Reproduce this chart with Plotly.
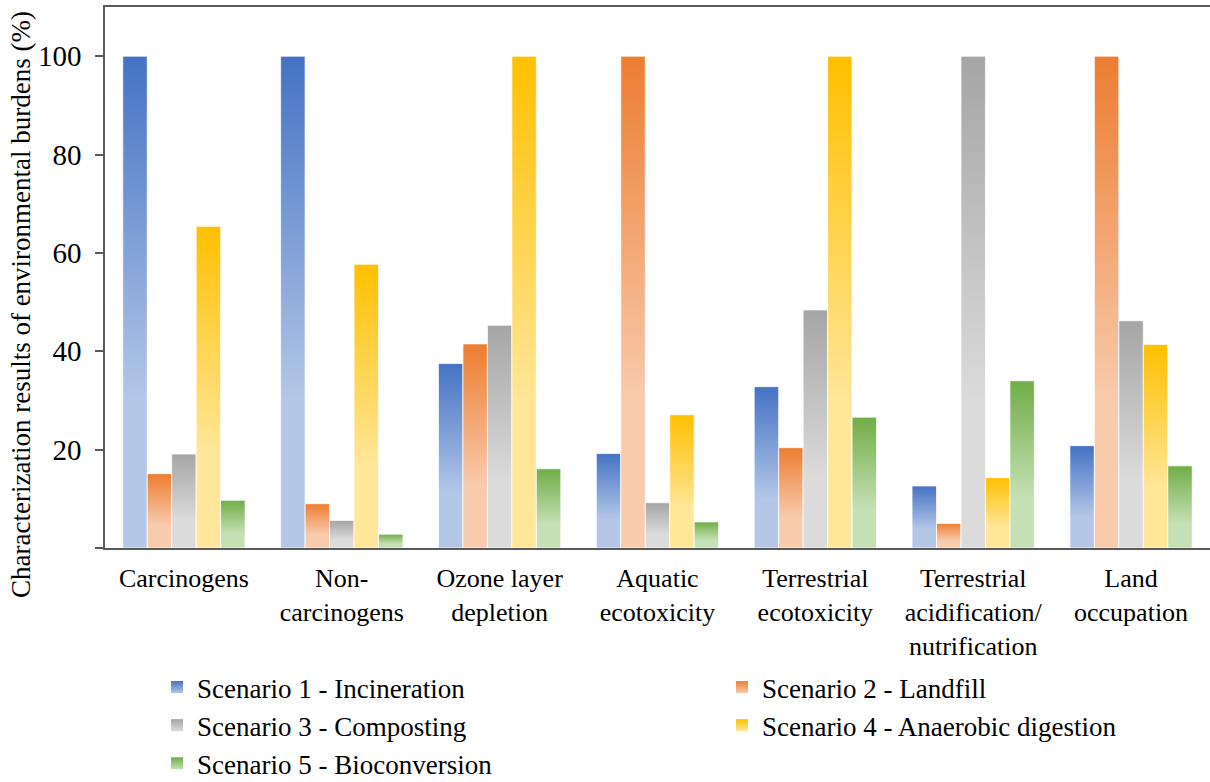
import plotly.graph_objects as go

# Impact categories (x axis) and scenario results (% of the worst scenario)
categories = [
    "Carcinogens",
    "Non-<br>carcinogens",
    "Ozone layer<br>depletion",
    "Aquatic<br>ecotoxicity",
    "Terrestrial<br>ecotoxicity",
    "Terrestrial<br>acidification/<br>nutrification",
    "Land<br>occupation",
]
scenario_names = [
    "Scenario 1 - Incineration",
    "Scenario 2 - Landfill",
    "Scenario 3 - Composting",
    "Scenario 4 - Anaerobic digestion",
    "Scenario 5 - Bioconversion",
]
incineration = [100, 100, 37.5, 19.2, 32.8, 12.6, 20.8]
landfill = [15.1, 9.0, 41.5, 100, 20.4, 5.0, 100]
composting = [19.1, 5.6, 45.3, 9.2, 48.4, 100, 46.2]
anaerobic = [65.4, 57.7, 100, 27.1, 100, 14.3, 41.4]
bioconversion = [9.7, 2.8, 16.1, 5.3, 26.6, 34.0, 16.7]
y_ticks = [0, 20, 40, 60, 80, 100]
y_ticklabels = ["", "20", "40", "60", "80", "100"]

series = [incineration, landfill, composting, anaerobic, bioconversion]
# (dark top colour, light bottom colour) for each scenario
palette = [
    ("#4472C4", "#B4C7E7"),
    ("#ED7D31", "#F8CBAD"),
    ("#A5A5A5", "#DBDBDB"),
    ("#FFC000", "#FFE699"),
    ("#70AD47", "#C5E0B4"),
]
# odd scenarios in the left legend column, even ones in the right column
legend_column = ["legend", "legend2", "legend", "legend2", "legend"]

FONT = "Liberation Serif"
GROUP_GAP = 0.225
n_series = len(series)
bar_w = (1 - GROUP_GAP) / n_series

fig = go.Figure()

# Each bar is a filled rectangle on a numeric x axis so that it can carry
# a vertical colour gradient (dark at the top, fading to light at the base).
for s, (values, (dark, light)) in enumerate(zip(series, palette)):
    for g, v in enumerate(values):
        x0 = g + GROUP_GAP / 2 + s * bar_w
        x1 = x0 + bar_w
        fig.add_trace(
            go.Scatter(
                x=[x0, x1, x1, x0, x0],
                y=[0, 0, v, v, 0],
                mode="lines",
                fill="toself",
                fillgradient=dict(
                    type="vertical",
                    start=0,
                    stop=v,
                    colorscale=[[0, light], [0.3, light], [1, dark]],
                ),
                line=dict(color="rgba(255,255,255,0.75)", width=1),
                legendgroup=scenario_names[s],
                showlegend=False,
                hoverinfo="skip",
            )
        )

# Legend entries with small gradient squares
for s, (dark, light) in enumerate(palette):
    fig.add_trace(
        go.Scatter(
            x=[None],
            y=[None],
            mode="markers",
            name=scenario_names[s],
            legendgroup=scenario_names[s],
            legend=legend_column[s],
            marker=dict(
                symbol="square",
                size=12,
                color=dark,
                gradient=dict(type="vertical", color=light),
                line=dict(width=0),
            ),
        )
    )

legend_style = dict(
    orientation="v",
    xref="container",
    yref="container",
    y=1 - 663 / 782,
    xanchor="left",
    yanchor="top",
    font=dict(family=FONT, size=27, color="black"),
    itemwidth=30,
    tracegroupgap=0,
    bgcolor="rgba(0,0,0,0)",
)

fig.update_layout(
    width=1210,
    height=782,
    margin=dict(l=105, r=0, t=7, b=234, autoexpand=False),
    plot_bgcolor="white",
    paper_bgcolor="white",
    font=dict(family=FONT, size=27, color="black"),
    showlegend=True,
    legend=dict(x=157 / 1210, **legend_style),
    legend2=dict(x=722 / 1210, **legend_style),
    xaxis=dict(
        range=[0, len(categories)],
        tickmode="array",
        tickvals=[g + 0.5 for g in range(len(categories))],
        ticktext=categories,
        ticks="",
        ticklabelstandoff=6,
        tickangle=0,
        automargin=False,
        showline=True,
        linecolor="#595959",
        linewidth=1.5,
        mirror=True,
        showgrid=False,
        zeroline=False,
        tickfont=dict(family=FONT, size=26, color="black"),
        fixedrange=True,
    ),
    yaxis=dict(
        range=[0, 110],
        tickmode="array",
        tickvals=y_ticks,
        ticktext=y_ticklabels,
        ticks="outside",
        ticklen=8,
        tickwidth=1.5,
        tickcolor="#595959",
        ticklabelstandoff=8,
        automargin=False,
        showline=True,
        linecolor="#595959",
        linewidth=1.5,
        showgrid=False,
        zeroline=False,
        tickfont=dict(family=FONT, size=29, color="black"),
        fixedrange=True,
    ),
    annotations=[
        dict(
            text="Characterization results of environmental burdens (%)",
            xref="paper",
            yref="paper",
            x=(21 - 105) / 1105,
            y=(548 - 305) / 541,
            xanchor="center",
            yanchor="middle",
            textangle=-90,
            showarrow=False,
            font=dict(family=FONT, size=27, color="black"),
        )
    ],
)

fig.write_html("out.html")
